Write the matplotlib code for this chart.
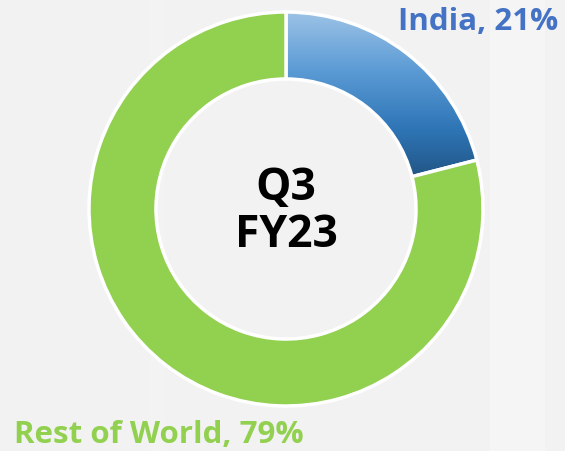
import numpy as np
import matplotlib
matplotlib.use("Agg")
import matplotlib.pyplot as plt
from matplotlib.colors import LinearSegmentedColormap

# data
regions = ["India", "Rest of World"]
shares = [21, 79]
center_label = "Q3\nFY23"

plt.rcParams['font.family'] = ['Open Sans', 'DejaVu Sans']

W, H = 565, 452
fig = plt.figure(figsize=(W / 100, H / 100), dpi=100)
fig.patch.set_facecolor('#F2F2F2')
ax = fig.add_axes([0, 0, 1, 1])
ax.set_facecolor('#F2F2F2')

# donut centre / radius in pixels
cx, cy, r = 286, 210, 197
ax.set_xlim(-cx / r, (W - cx) / r)
ax.set_ylim(-(H - cy) / r, cy / r)
ax.axis('off')

# faint light stripes in the background
ax.axvspan((490 - cx) / r, (545 - cx) / r, color='white', alpha=0.25, lw=0)
ax.axvspan((150 - cx) / r, (165 - cx) / r, color='white', alpha=0.15, lw=0)

wedges, _ = ax.pie(shares, colors=['none', '#92D050'], startangle=90,
                   counterclock=False, radius=1,
                   wedgeprops=dict(width=0.34, edgecolor='white', linewidth=2.5))
for w in wedges:
    w.set_zorder(3)

# blue gradient for India slice
blues = LinearSegmentedColormap.from_list('b', ['#9DC3E6', '#5B9BD5', '#2E75B6', '#1F4E79'])
grad = np.linspace(0, 1, 256).reshape(-1, 1)
img = ax.imshow(grad, cmap=blues, aspect='auto', extent=(0, 1, 0.1, 1),
                origin='upper', zorder=2)
img.set_clip_path(wedges[0])
ax.set_xlim(-cx / r, (W - cx) / r)
ax.set_ylim(-(H - cy) / r, cy / r)

ax.text(0, -0.01, center_label, ha='center', va='center', fontsize=32,
        fontweight='bold', color='black', linespacing=1.05, zorder=4)

fig.text(558 / W, 1 - 22 / H, f"{regions[0]}, {shares[0]}%", ha='right', va='center',
         fontsize=22.5, fontweight='bold', color='#4472C4')
fig.text(14 / W, 1 - 435 / H, f"{regions[1]}, {shares[1]}%", ha='left', va='center',
         fontsize=22.5, fontweight='bold', color='#92D050')

fig.savefig('out.png', dpi=100, facecolor=fig.get_facecolor())
